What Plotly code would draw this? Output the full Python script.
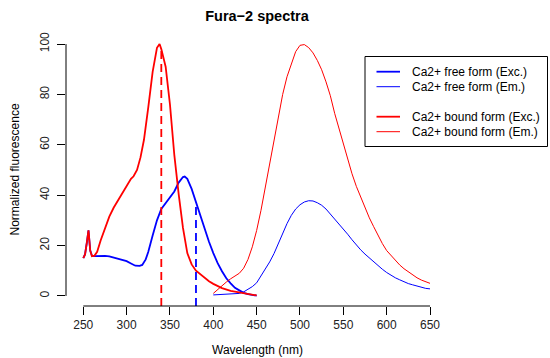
import numpy as np
import plotly.graph_objects as go

# Excitation spectra (nm, normalized fluorescence)
wl_ex_free = [250, 252, 254, 256, 258, 260, 263, 266, 270, 275, 280, 285, 290, 295, 300,
              305, 310, 315, 318, 322, 325, 330, 335, 340, 345, 350, 355, 360, 365, 367,
              370, 375, 380, 385, 390, 395, 400, 405, 410, 415, 420, 425, 430, 435, 440,
              445, 450]
ex_free = [15.0, 16.5, 21.0, 26.0, 18.0, 15.9, 15.8, 15.9, 16.0, 15.9, 15.7, 15.2, 14.8, 14.4, 13.8,
           12.9, 12.0, 11.9, 12.3, 14.5, 17.5, 24.0, 30.0, 34.5, 37.0, 39.0, 41.5, 45.0, 47.2, 47.4,
           46.5, 42.5, 37.0, 31.5, 26.0, 21.5, 17.0, 13.0, 9.8, 7.0, 5.0, 3.2, 2.2, 1.2, 0.7,
           0.3, 0.1]

wl_ex_bound = [250, 252, 254, 256, 258, 260, 263, 266, 270, 275, 280, 285, 290, 295, 300,
               305, 308, 312, 316, 320, 325, 330, 335, 338, 340, 345, 350, 355, 360, 365, 370,
               375, 380, 385, 390, 395, 400, 410, 420, 430, 440, 450]
ex_bound = [15.0, 16.5, 21.0, 26.0, 18.0, 15.8, 16.0, 17.5, 22.0, 27.0, 31.5, 35.0, 38.0, 40.5, 44.0,
            46.5, 47.5, 50.0, 55.0, 62.0, 75.0, 89.0, 98.5, 100.0, 98.0, 91.0, 76.0, 56.0, 40.5, 27.0, 17.0,
            12.5, 10.0, 8.5, 7.0, 5.8, 4.8, 3.1, 2.0, 1.3, 0.7, 0.2]

# Emission spectra
wl_em = [400, 405, 410, 415, 420, 425, 430, 435, 440, 445, 450, 455, 460, 465, 470,
         475, 480, 485, 490, 495, 500, 505, 510, 515, 520, 525, 530, 535, 540, 545,
         550, 555, 560, 565, 570, 575, 580, 585, 590, 595, 600, 605, 610, 615, 620,
         625, 630, 635, 640, 645, 650]
em_free = [0.4, 0.45, 0.5, 0.55, 0.6, 0.8, 1.0, 1.6, 2.5, 3.7, 5.2, 7.8, 10.8, 13.5, 16.8,
           21.0, 25.0, 28.7, 32.0, 34.5, 36.2, 37.3, 37.8, 37.7, 37.0, 36.0, 34.5, 32.5, 30.8, 28.8,
           26.7, 24.5, 22.3, 20.2, 18.3, 16.6, 15.0, 13.4, 12.0, 10.6, 9.3, 8.2, 7.2, 6.4, 5.6,
           4.9, 4.4, 3.9, 3.4, 3.0, 2.8]
em_bound = [1.0, 2.5, 4.2, 5.5, 6.8, 7.9, 9.0, 11.0, 14.5, 19.5, 26.0, 34.0, 43.0, 53.0, 62.5,
            71.5, 80.0, 87.0, 92.5, 97.0, 99.5, 99.8, 98.6, 96.5, 93.5, 89.8, 85.0, 79.5, 72.5, 66.5,
            60.5, 54.0, 48.5, 43.5, 39.3, 35.0, 31.0, 27.5, 24.0, 20.8, 18.0, 16.0, 14.0, 12.3, 10.8,
            9.5, 8.3, 7.2, 6.3, 5.6, 5.0]

# Excitation wavelengths used for ratiometric imaging
exc_bound_nm = 340
exc_free_nm = 380

x_ticks = [250, 300, 350, 400, 450, 500, 550, 600, 650]
y_ticks = [0, 20, 40, 60, 80, 100]

labels = ["Ca2+ free form (Exc.)", "Ca2+ free form (Em.)",
          "Ca2+ bound form (Exc.)", "Ca2+ bound form (Em.)"]

BLUE = "#0000FF"
RED = "#FF0000"
FONT = "Liberation Sans, Arial, sans-serif"
THICK, THIN = 1.8, 1

W, H = 550, 358
ML, MR, MT, MB = 66, 102, 34, 52
PW, PH = W - ML - MR, H - MT - MB
X_RANGE = [230.05, 670.75]
Y_RANGE = [-4, 104]


def px_x(px):
    return (px - ML) / PW


def px_y(py):
    return (H - MB - py) / PH


fig = go.Figure()

series = [
    (wl_ex_free, ex_free, BLUE, THICK),
    (wl_em, em_free, BLUE, THIN),
    (wl_ex_bound, ex_bound, RED, THICK),
    (wl_em, em_bound, RED, THIN),
]
for wl, vals, col, w in series:
    fig.add_trace(go.Scatter(x=wl, y=vals, mode="lines",
                             line=dict(color=col, width=w),
                             showlegend=False, hoverinfo="skip"))

# Dashed markers at the two excitation wavelengths, up to the curve
for nm, wl, vals, col in [(exc_bound_nm, wl_ex_bound, ex_bound, RED),
                          (exc_free_nm, wl_ex_free, ex_free, BLUE)]:
    top = float(np.interp(nm, wl, vals))
    fig.add_trace(go.Scatter(x=[nm, nm], y=[Y_RANGE[0], top], mode="lines",
                             line=dict(color=col, width=THICK, dash="8px,5px"),
                             showlegend=False, hoverinfo="skip"))

# Axis lines spanning the first to the last tick
fig.add_shape(type="line", xref="x", yref="paper", x0=x_ticks[0], x1=x_ticks[-1],
              y0=0, y1=0, line=dict(color="black", width=1))
fig.add_shape(type="line", xref="paper", yref="y", x0=0, x1=0,
              y0=y_ticks[0], y1=y_ticks[-1], line=dict(color="black", width=1))

# Legend box
fig.add_shape(type="rect", xref="paper", yref="paper",
              x0=px_x(365), x1=px_x(547.5), y0=px_y(146.5), y1=px_y(56.5),
              line=dict(color="black", width=1), fillcolor="white", layer="above")
legend_rows = [71.7, 86.7, 116.7, 131.7]
legend_style = [(BLUE, THICK), (BLUE, THIN), (RED, THICK), (RED, THIN)]
for row, (col, w), lab in zip(legend_rows, legend_style, labels):
    fig.add_shape(type="line", xref="paper", yref="paper",
                  x0=px_x(376.5), x1=px_x(400), y0=px_y(row), y1=px_y(row),
                  line=dict(color=col, width=w), layer="above")
    fig.add_annotation(xref="paper", yref="paper", x=px_x(410), y=px_y(row),
                       text=lab, showarrow=False, xanchor="left", yanchor="middle",
                       font=dict(family=FONT, size=12, color="black"))

# Axis titles
fig.add_annotation(xref="paper", yref="paper", x=0.5, y=px_y(349.5),
                   text="Wavelength (nm)", showarrow=False,
                   xanchor="center", yanchor="middle",
                   font=dict(family=FONT, size=12, color="black"))
fig.add_annotation(xref="paper", yref="paper", x=px_x(14.5), y=0.5,
                   text="Normalized fluorescence", showarrow=False, textangle=-90,
                   xanchor="center", yanchor="middle",
                   font=dict(family=FONT, size=12, color="black"))

fig.update_layout(
    width=W, height=H,
    margin=dict(l=ML, r=MR, t=MT, b=MB, pad=0),
    paper_bgcolor="white", plot_bgcolor="white",
    title=dict(text="<b>Fura−2 spectra</b>", x=px_x(257) * PW / W + ML / W,
               xanchor="center", y=1 - 15.5 / H, yanchor="middle",
               font=dict(family=FONT, size=14.5, color="black")),
    showlegend=False,
    font=dict(family=FONT, size=12, color="black"),
)
fig.update_xaxes(range=X_RANGE, tickvals=x_ticks, ticks="outside", ticklen=8,
                 tickwidth=1, tickcolor="black", showgrid=False, zeroline=False,
                 showline=False, tickfont=dict(family=FONT, size=12, color="#222"))
fig.update_yaxes(range=Y_RANGE, tickvals=y_ticks, ticks="outside", ticklen=8,
                 tickwidth=1, tickcolor="black", showgrid=False, zeroline=False,
                 showline=False, tickangle=-90, ticklabelstandoff=3,
                 tickfont=dict(family=FONT, size=12, color="#222"))

fig.write_html("out.html")
